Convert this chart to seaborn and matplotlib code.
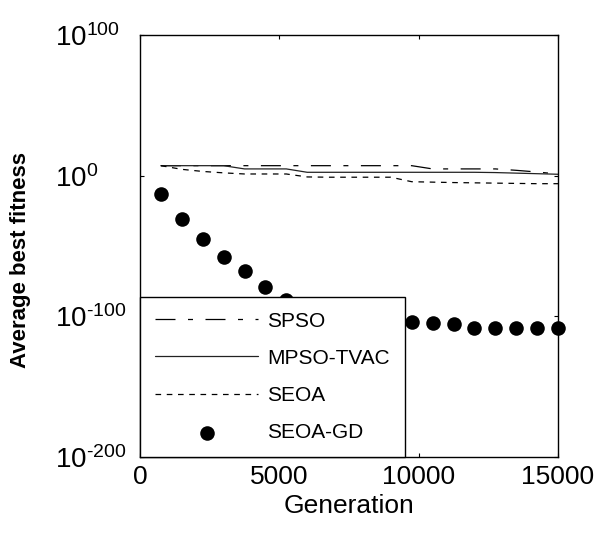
import numpy as np
import pandas as pd
import matplotlib
matplotlib.use("Agg")
import matplotlib.pyplot as plt
import seaborn as sns

# ---- data (log10 of average best fitness) ----
generations = [750, 1500, 2250, 3000, 3750, 4500, 5250, 6000, 6750, 7500,
               8250, 9000, 9750, 10500, 11250, 12000, 12750, 13500, 14250, 15000]
spso_log = [7.1, 7.1, 7.1, 7.1, 7.1, 7.1, 7.1, 7.1, 7.1, 7.1,
            7.1, 7.1, 7.1, 4.8, 4.8, 4.8, 4.8, 3.8, 2.6, 1.2]
mpso_log = [7.1, 7.1, 7.1, 7.1, 4.8, 4.8, 4.8, 2.4, 2.4, 2.4,
            2.4, 2.4, 2.4, 2.4, 2.4, 2.4, 2.2, 1.8, 1.4, 1.0]
seoa_log = [7.1, 4.5, 3.0, 2.0, 1.2, 1.2, 1.2, -0.9, -1.1, -1.1,
            -1.1, -1.1, -4.3, -4.6, -4.9, -5.1, -5.3, -5.5, -5.7, -5.7]
seoagd_log = [-13.0, -30.8, -45.0, -57.6, -67.7, -79.1, -88.5, -93.0, -97.0, -100.0,
              -102.0, -103.5, -104.2, -104.9, -105.4, -108.0, -108.0, -108.0, -108.0, -108.0]
series_names = ["SPSO", "MPSO-TVAC", "SEOA", "SEOA-GD"]
y_ticks = [1e-200, 1e-100, 1e0, 1e100]
y_ticklabels = [r"$\mathregular{10^{\text{-}200}}$", r"$\mathregular{10^{\text{-}100}}$",
                r"$\mathregular{10^{0}}$", r"$\mathregular{10^{100}}$"]
x_ticks = [0, 5000, 10000, 15000]

df = pd.DataFrame({
    "Generation": generations,
    "SPSO": 10.0 ** np.array(spso_log),
    "MPSO-TVAC": 10.0 ** np.array(mpso_log),
    "SEOA": 10.0 ** np.array(seoa_log),
    "SEOA-GD": 10.0 ** np.array(seoagd_log),
})

sns.set_theme(style="white")
plt.rcParams["font.family"] = ["Liberation Sans", "DejaVu Sans"]
plt.rcParams["mathtext.fontset"] = "custom"
plt.rcParams["mathtext.rm"] = "Liberation Sans"
plt.rcParams["mathtext.it"] = "Liberation Sans:italic"
plt.rcParams["mathtext.bf"] = "Liberation Sans:bold"
plt.rcParams["text.color"] = "black"
plt.rcParams["axes.labelcolor"] = "black"
plt.rcParams["xtick.color"] = "black"
plt.rcParams["ytick.color"] = "black"

fig = plt.figure(figsize=(6.03, 5.43), dpi=100)
ax = fig.add_axes([140 / 603, 1 - 457 / 543, 418 / 603, 422 / 543])
ax.set_yscale("log")

sns.lineplot(data=df, x="Generation", y="SPSO", ax=ax, color="black", lw=0.9,
             linestyle=(0, (16, 10, 4, 10)), label="SPSO")
sns.lineplot(data=df, x="Generation", y="MPSO-TVAC", ax=ax, color="#222222", lw=0.9,
             linestyle="-", label="MPSO-TVAC")
sns.lineplot(data=df, x="Generation", y="SEOA", ax=ax, color="black", lw=0.9,
             linestyle=(0, (4.5, 4.5)), label="SEOA")
sns.scatterplot(data=df, x="Generation", y="SEOA-GD", ax=ax, color="black", s=110,
                edgecolor="black", linewidth=0, label="SEOA-GD", zorder=3, clip_on=False)

ax.set_xlim(0, 15000)
ax.set_ylim(1e-200, 1e100)
ax.set_xticks(x_ticks)
ax.set_xticklabels([str(v) for v in x_ticks])
ax.set_yticks(y_ticks)
ax.set_yticklabels(y_ticklabels)
ax.yaxis.set_minor_locator(matplotlib.ticker.NullLocator())

ax.tick_params(axis="both", which="major", direction="in", length=3, width=0.8,
               top=True, right=True, bottom=True, left=True, color="black",
               labelcolor="black")
ax.tick_params(axis="x", labelsize=19, pad=6)
ax.tick_params(axis="y", labelsize=20, pad=61)
for lab in ax.get_yticklabels():
    lab.set_horizontalalignment("left")

for sp in ax.spines.values():
    sp.set_color("black")
    sp.set_linewidth(1.0)
    sp.set_visible(True)

ax.set_xlabel("Generation", fontsize=19, color="black")
ax.set_ylabel("Average best fitness", fontsize=16, fontweight="bold", color="black")
ax.xaxis.set_label_coords(0.5, -0.088)
ax.yaxis.set_label_coords(-0.261, 0.467)

leg = ax.legend(loc="lower left", bbox_to_anchor=(0, 0), borderaxespad=0,
                fontsize=15, handlelength=4.95, handletextpad=0.45, labelspacing=0.87,
                borderpad=0.72, frameon=True, fancybox=False, framealpha=1,
                edgecolor="black")
leg.get_frame().set_linewidth(1.0)
leg.set_zorder(5)
for t in leg.get_texts():
    t.set_color("black")

fig.savefig("out.png", dpi=100)
